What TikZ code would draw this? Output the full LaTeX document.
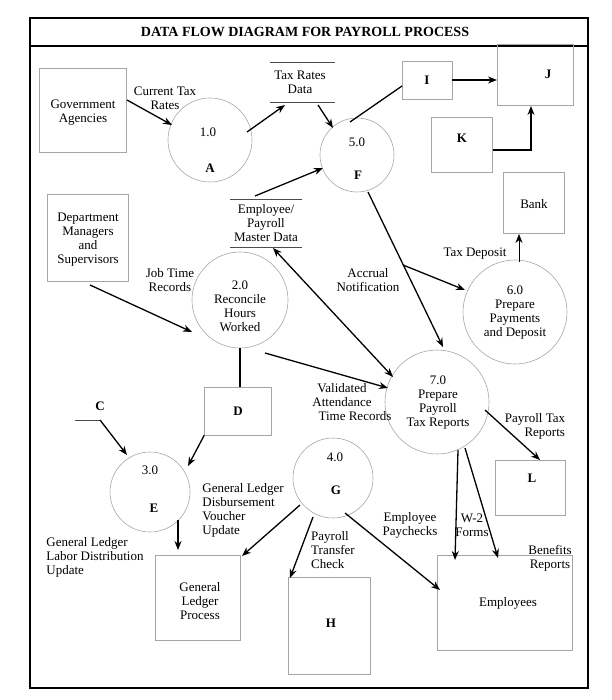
\documentclass[tikz,border=0pt]{standalone}
\usepackage{fontspec}
\setmainfont{Liberation Serif}
\usetikzlibrary{arrows.meta}
\begin{document}
\begin{tikzpicture}[x=1pt,y=-1pt,
  every node/.style={font=\fontsize{13}{14}\selectfont,align=center,inner sep=1pt},
  ent/.style={draw=gray!70,line width=0.6pt,inner sep=0pt},
  proc/.style={draw=gray!70,line width=0.6pt,circle},
  fl/.style={-{Stealth[length=9pt,width=7pt]},line width=1.3pt},
  st/.style={draw=gray!60!black,line width=0.7pt}]
\useasboundingbox (0,0) rectangle (611,700);
\draw[line width=1.8pt] (30,18) rectangle (588,688);
\draw[line width=1.8pt] (30,46) -- (588,46);
\node[font=\fontsize{14}{15}\selectfont\bfseries] (title) at (305,32) {DATA FLOW DIAGRAM FOR PAYROLL PROCESS};
% entities
\node[ent,minimum width=87pt,minimum height=84pt] (gov) at (83,110) {};
\node at (83,113) {Government\\Agencies};
\node[ent,minimum width=81pt,minimum height=87pt] (dep) at (88,238) {};
\node at (88,240) {Department\\Managers\\and\\Supervisors};
\node[ent,minimum width=50pt,minimum height=38pt] (I) at (427,80) {\bfseries I};
\node[ent,minimum width=76pt,minimum height=61pt] (J) at (535,75) {};
\node[font=\bfseries\fontsize{13}{14}\selectfont] at (548,74) {J};
\node[ent,minimum width=61pt,minimum height=55pt] (K) at (462,145) {};
\node[font=\bfseries\fontsize{13}{14}\selectfont] at (462,138) {K};
\node[ent,minimum width=61pt,minimum height=61pt] (bank) at (534,203) {};
\node at (534,204) {Bank};
\node[ent,minimum width=67pt,minimum height=48pt] (D) at (238,411) {\bfseries D};
\node[ent,minimum width=70pt,minimum height=55pt] (L) at (530,488) {};
\node[font=\bfseries\fontsize{13}{14}\selectfont] at (532,478) {L};
\node[ent,minimum width=85pt,minimum height=85pt] (GL) at (198,598) {};
\node at (200,601) {General\\Ledger\\Process};
\node[ent,minimum width=82pt,minimum height=97pt] (H) at (329,626) {};
\node[font=\bfseries\fontsize{13}{14}\selectfont] at (331,623) {H};
\node[ent,minimum width=135pt,minimum height=95pt] (emp) at (505,603) {};
\node at (508,603) {Employees};
% processes
\node[proc,minimum size=84pt] (A) at (210,140) {};
\node at (208,132) {1.0}; \node at (210,168) {\bfseries A};
\node[proc,minimum size=74pt] (F) at (357,155) {};
\node at (357,142) {5.0}; \node at (358,175) {\bfseries F};
\node[proc,minimum size=96pt] (P2) at (240,300) {};
\node at (240,306) {2.0\\Reconcile\\Hours\\Worked};
\node[proc,minimum size=104pt] (P6) at (515,312) {};
\node at (515,313) {6.0\\Prepare\\Payments\\and Deposit};
\node[proc,minimum size=104pt] (P7) at (437,402) {};
\node at (438,403) {7.0\\Prepare\\Payroll\\Tax Reports};
\node[proc,minimum size=80pt] (E) at (150,492) {};
\node at (150,470) {3.0}; \node at (154,508) {\bfseries E};
\node[proc,minimum size=80pt] (G) at (333,478) {};
\node at (335,457) {4.0}; \node at (336,490) {\bfseries G};
% data stores
\draw[st] (270,62) -- (335,62); \draw[st] (270,102) -- (335,102);
\node (trd) at (300,82) {Tax Rates\\Data};
\draw[st] (230,199) -- (302,199); \draw[st] (230,247) -- (302,247);
\node (pmd) at (266,223) {Employee/\\Payroll\\Master Data};
\node (C) at (100,406) {\bfseries C};
\draw[st] (75,420) -- (100,420);
\coordinate (c0) at (100,420);
% labels
\node at (165,98) {Current Tax\\Rates};
\node at (170,280) {Job Time\\Records};
\node at (368,280) {Accrual\\Notification};
\node at (475,254) {Tax Deposit};
\node at (342,402) {Validated\\Attendance\\\hspace*{2em}Time Records};
\node at (535,426) {Payroll Tax\\\hspace*{1.5em}Reports};
\node[align=left] at (243,510) {General Ledger\\Disbursement\\Voucher\\Update};
\node[align=left] at (95,557) {General Ledger\\Labor Distribution\\Update};
\node[align=left] at (333,550) {Payroll\\Transfer\\Check};
\node at (410,525) {Employee\\Paychecks};
\node at (472,525) {W-2\\Forms};
\node at (550,558) {Benefits\\Reports};
% flows
\draw[fl] (127,100) -- (172,125);
\draw[fl] (247,132) -- (285,105);
\draw[fl] (318,105) -- (333,128);
\draw[line width=1.3pt] (350,122) -- (402,86);
\draw[fl] (I.east) -- (497,80);
\draw[fl] (493,150) -- (531,150) -- (531,106);
\draw[fl] (255,196) -- (323,168);
\draw[fl] (90,285) -- (192,332);
\draw[fl] (368,192) -- (443,347);
\draw[fl] (403,265) -- (465,290);
\draw[fl,line width=0.6pt] (519,262) -- (519,234);
\draw[{Stealth[length=9pt,width=7pt]}-{Stealth[length=9pt,width=7pt]},line width=1.3pt] (273,248) -- (393,377);
\draw[fl] (265,353) -- (388,388);
\draw[line width=1.3pt] (240,348) -- (240,387);
\draw[fl] (D.south west) -- (188,466);
\draw[fl] (c0) -- (127,455);
\draw[fl] (178,520) -- (178,550);
\draw[fl] (300,505) -- (242,556);
\draw[fl] (313,517) -- (290,578);
\draw[fl] (345,513) -- (440,590);
\draw[fl] (485,410) -- (540,460);
\draw[fl] (458,450) -- (455,560);
\draw[fl] (465,448) -- (498,558);
\end{tikzpicture}
\end{document}
